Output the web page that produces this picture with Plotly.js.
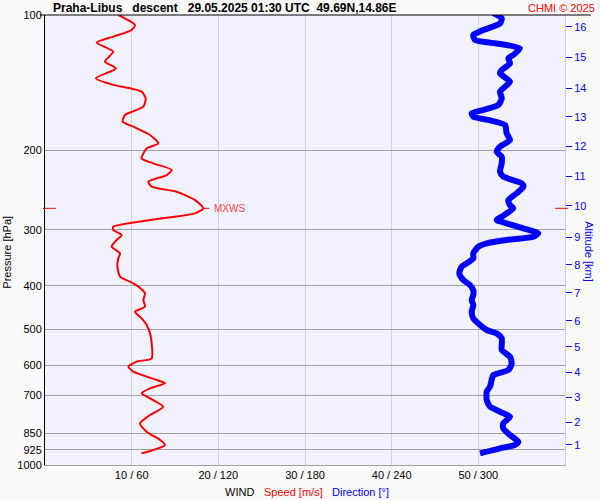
<!DOCTYPE html>
<html>
<head>
<meta charset="utf-8">
<script src="https://cdn.plot.ly/plotly-3.0.1.min.js"></script>
<style>html,body{margin:0;padding:0;background:#fafafa;}#chart{width:600px;height:500px;}</style>
</head>
<body>
<div id="chart"></div>
<script>
// Wind speed profile [m/s] vs pressure [hPa]
const speedPressure = [100,105.2,108.0,111.7,115.2,120.6,126.9,131.4,138.2,143.0,145.5,148.0,153.2,159.8,166.8,172.6,177.1,184.8,192.9,197.9,208.2,213.6,221.0,226.8,234.6,240.7,247.0,257.8,268.9,275.9,285.5,295.4,300.5,308.3,316.2,327.2,338.6,347.3,362.5,381.5,391.4,401.5,415.5,429.9,444.8,456.4,472.2,488.6,509.9,536.6,579.4,589.3,604.6,620.2,647.3,658.4,675.4,692.9,710.9,742.0,774.3,808.0,843.2,879.9,902.7,926.3,942.1];
const speed = [8.46,10.38,10.0,7.88,5.96,7.88,6.92,8.19,5.88,7.88,9.81,11.15,11.62,11.35,9.23,8.96,10.19,12.12,13.08,11.73,11.15,12.5,14.62,14.04,11.92,12.31,15.19,17.31,18.27,17.31,12.12,7.88,7.88,8.85,8.27,7.69,8.65,8.46,8.35,8.65,9.81,10.77,11.54,11.35,11.54,10.38,11.15,11.73,12.12,12.31,12.31,10.58,9.62,10.19,12.88,13.85,12.12,11.15,12.12,13.65,12.12,10.96,11.73,13.27,13.85,12.5,11.15];

// Wind direction profile [deg] vs pressure [hPa]
const dirPressure = [99,101.7,104.4,108.0,110.8,113.6,115.2,116.6,118.6,122.7,124.8,128.1,132.5,134.8,140.6,144.3,148.0,153.2,158.5,162.6,165.4,168.3,171.1,175.6,183.2,189.6,196.2,201.3,206.5,213.6,222.9,228.7,236.6,240.7,249.1,257.8,264.5,268.9,280.6,285.5,290.4,298.0,305.7,311.0,316.2,321.7,327.2,338.6,347.3,356.3,362.5,375.1,388.1,398.1,408.5,419.1,429.9,441.0,456.4,472.2,488.6,501.2,509.9,523.1,541.2,555.3,574.5,594.6,615.2,631.0,647.3,669.6,687.1,717.1,742.0,761.3,780.9,808.0,828.9,857.9,887.6,902.7,918.4,942.1];
const direction = [310.4,316.2,315.0,303.5,296.5,297.7,308.1,319.6,328.8,324.2,320.8,321.9,316.2,315.0,321.9,318.5,315.0,316.2,313.8,303.5,295.4,296.5,306.9,318.5,319.6,321.9,315.0,312.7,316.2,316.2,315.0,317.3,330.0,331.2,326.5,320.8,321.9,324.2,316.2,312.7,319.6,331.2,341.5,338.1,319.6,305.8,300.0,296.5,296.5,291.9,288.5,286.8,289.6,294.2,296.5,296.5,295.4,296.5,295.4,296.5,301.2,305.8,312.7,316.2,316.2,316.2,321.9,323.1,320.8,310.4,309.2,308.1,305.8,305.8,308.1,315.0,321.9,317.3,317.3,321.9,327.7,325.4,315.0,301.2];

// Axis ticks
const pressureTicks = [100,200,300,400,500,600,700,850,925,1000];
const speedTicks = [10,20,30,40,50];
const dirTicks = [60,120,180,240,300];
const altitudeKm = [1,2,3,4,5,6,7,8,9,10,11,12,13,14,15,16];
const altitudePressure = [902.5,802.6,706.2,621.5,546.7,478.6,414.7,359.3,311.5,265.7,228.0,195.5,168.5,145.3,124.0,106.3];

const titleText = "Praha-Libus\u00a0\u00a0\u00a0descent\u00a0\u00a0\u00a029.05.2025 01:30 UTC\u00a0\u00a049.69N,14.86E";

// MXWS level (maximum wind)
let iMax = 0;
speed.forEach((v, i) => { if (v > speed[iMax]) iMax = i; });
const maxS = speed[iMax], maxP = speedPressure[iMax];
const logMaxP = Math.log10(maxP);
const P_TOP = 100, P_BOT = 1000;
// paper fraction of the MXWS level on the (reversed) log pressure axis
const mxwsPaper = (Math.log10(P_BOT) - logMaxP) / (Math.log10(P_BOT) - Math.log10(P_TOP));

const FONT = "Liberation Sans, Arial, sans-serif";

const traces = [
  {x: speed, y: speedPressure, xaxis: 'x', yaxis: 'y', mode: 'lines',
   line: {color: '#ff0000', width: 2, shape: 'spline', smoothing: 0.6}, hoverinfo: 'skip'},
  {x: direction, y: dirPressure, xaxis: 'x2', yaxis: 'y', mode: 'lines',
   line: {color: '#0000ff', width: 6, shape: 'spline', smoothing: 0.6}, hoverinfo: 'skip'},
  {x: [null], y: [null], xaxis: 'x', yaxis: 'y2', mode: 'lines', hoverinfo: 'skip'}
];

const layout = {
  width: 600, height: 500,
  margin: {l: 45, r: 35, t: 15, b: 35},
  paper_bgcolor: '#fafafa', plot_bgcolor: '#f2f2ff',
  showlegend: false,
  font: {family: FONT, size: 11, color: '#000'},
  xaxis: {range: [0, 60], tickvals: speedTicks,
          ticktext: speedTicks.map((s, i) => s + ' / ' + dirTicks[i]),
          showgrid: true, gridcolor: '#d4d4d4', gridwidth: 1, zeroline: false,
          showline: true, linecolor: '#a0a0a0', linewidth: 1, ticks: '',
          tickfont: {family: FONT, size: 11, color: '#000'}, fixedrange: true},
  xaxis2: {range: [0, 360], overlaying: 'x', visible: false},
  yaxis: {type: 'log', range: [Math.log10(P_BOT), Math.log10(P_TOP)], tickvals: pressureTicks,
          ticktext: pressureTicks.map(String), showgrid: true, gridcolor: '#a0a0a0',
          gridwidth: 1, zeroline: false, showline: true, linecolor: '#000', linewidth: 1,
          ticks: '', tickfont: {family: FONT, size: 11, color: '#000'}},
  yaxis2: {type: 'log', range: [Math.log10(P_BOT), Math.log10(P_TOP)], overlaying: 'y', side: 'right',
           tickvals: altitudePressure, ticktext: altitudeKm.map(String),
           showgrid: false, zeroline: false, showline: true, linecolor: '#cfcfd8', linewidth: 1,
           ticks: 'outside', ticklen: 6, tickcolor: '#0000ff', tickwidth: 1,
           tickfont: {family: FONT, size: 11, color: '#0000ff'}},
  shapes: [
    {type: 'line', xref: 'paper', yref: 'paper', x0: -0.01, x1: 1.05, y0: 1, y1: 1,
     line: {color: '#000', width: 1}},
    {type: 'line', xref: 'paper', yref: 'paper', x0: -0.004, x1: 0.021, y0: mxwsPaper, y1: mxwsPaper,
     line: {color: '#ff0000', width: 1}},
    {type: 'line', xref: 'paper', yref: 'paper', x0: 0.981, x1: 1.006, y0: mxwsPaper, y1: mxwsPaper,
     line: {color: '#ff0000', width: 1}},
    {type: 'line', xref: 'x', yref: 'paper', x0: maxS, x1: maxS + 0.7, y0: mxwsPaper, y1: mxwsPaper,
     line: {color: '#ff0000', width: 1}}
  ],
  annotations: [
    {text: '<b>' + titleText + '</b>', xref: 'paper', yref: 'paper', x: 0.0115, y: 1.0156,
     xanchor: 'left', yanchor: 'middle', showarrow: false, font: {family: FONT, size: 12, color: '#000'}},
    {text: 'CHMI © 2025', xref: 'paper', yref: 'paper', x: 1.0615, y: 1.0156,
     xanchor: 'right', yanchor: 'middle', showarrow: false, font: {family: FONT, size: 11, color: '#ff0000'}},
    {text: 'Pressure [hPa]', xref: 'paper', yref: 'paper', x: -0.0721, y: 0.473, textangle: -90,
     xanchor: 'center', yanchor: 'middle', showarrow: false, font: {family: FONT, size: 11, color: '#000'}},
    {text: 'Altitude [km]', xref: 'paper', yref: 'paper', x: 1.046, y: 0.473, textangle: 90,
     xanchor: 'center', yanchor: 'middle', showarrow: false, font: {family: FONT, size: 11, color: '#0000ff'}},
    {text: 'WIND', xref: 'paper', yref: 'paper', x: (239 - 45) / 520, y: -0.0593,
     xanchor: 'center', yanchor: 'middle', showarrow: false, font: {family: FONT, size: 11, color: '#000'}},
    {text: 'Speed [m/s]', xref: 'paper', yref: 'paper', x: (293 - 45) / 520, y: -0.0593,
     xanchor: 'center', yanchor: 'middle', showarrow: false, font: {family: FONT, size: 11, color: '#ff0000'}},
    {text: 'Direction [°]', xref: 'paper', yref: 'paper', x: (360 - 45) / 520, y: -0.0593,
     xanchor: 'center', yanchor: 'middle', showarrow: false, font: {family: FONT, size: 11, color: '#0000ff'}},
    {text: 'MXWS', xref: 'x', yref: 'paper', x: maxS, y: mxwsPaper, xanchor: 'left', yanchor: 'middle',
     xshift: 9, showarrow: false, font: {family: FONT, size: 10, color: '#ff4040'}}
  ]
};

Plotly.newPlot('chart', traces, layout, {staticPlot: true, displayModeBar: false});
</script>
</body>
</html>
